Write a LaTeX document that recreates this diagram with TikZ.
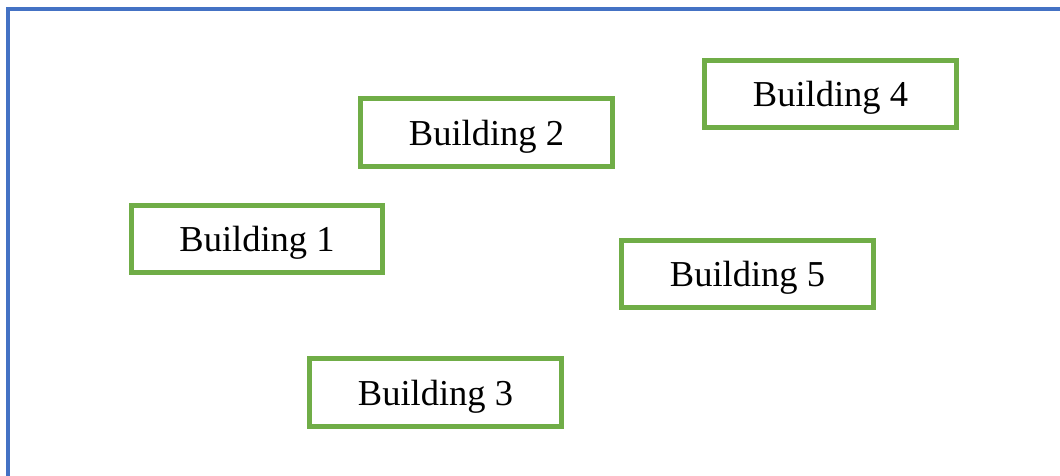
\documentclass[tikz,border=0pt]{standalone}
\usepackage{fontspec}
\setmainfont{Liberation Serif}
\definecolor{frameblue}{HTML}{4472C4}
\definecolor{boxgreen}{HTML}{70AD47}
\tikzset{
  bldg/.style={draw=boxgreen, line width=4.8pt, minimum width=251.5pt, minimum height=67.5pt,
    inner sep=0pt, text depth=0pt, font=\fontsize{36.5}{40}\selectfont, text=black},
  outerframe/.style={draw=frameblue, line width=4.5pt}
}
\begin{document}
\begin{tikzpicture}[x=1pt,y=-1pt]
\useasboundingbox (0,0) rectangle (1060,476);
\clip (0,0) rectangle (1060,476);
\fill[white] (0,0) rectangle (1060,476);
\draw[outerframe] (8,9) rectangle (1080,500);
\node[bldg] (b1) at (257,239) {Building 1};
\node[bldg] (b2) at (486.5,132.5) {Building 2};
\node[bldg] (b3) at (435.5,392.5) {Building 3};
\node[bldg] (b4) at (830.5,94) {Building 4};
\node[bldg] (b5) at (747.5,274) {Building 5};
\end{tikzpicture}
\end{document}
